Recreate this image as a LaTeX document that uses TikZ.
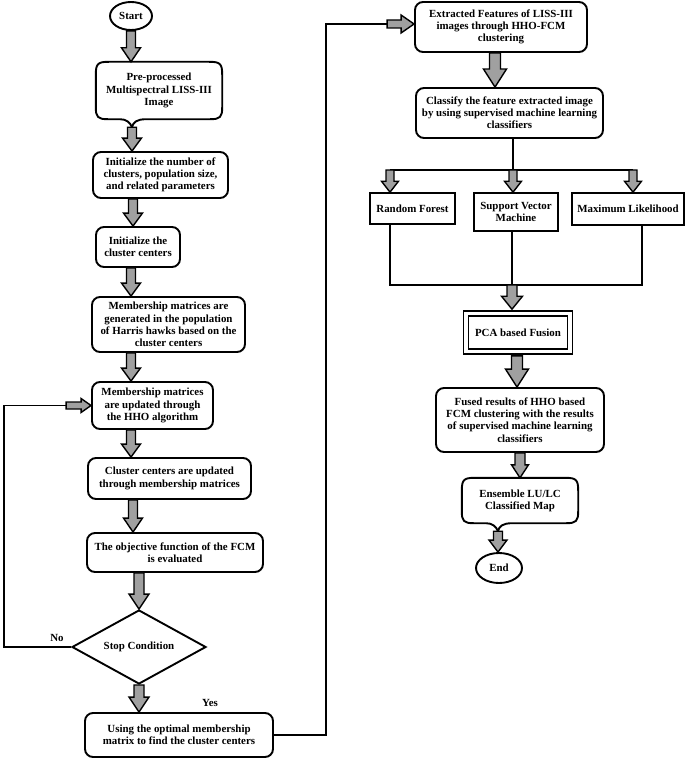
\documentclass[tikz,border=0pt]{standalone}
\usepackage{fontspec}
\setmainfont{Liberation Serif}
\usetikzlibrary{shapes.geometric,calc}
\definecolor{arrgray}{RGB}{160,160,160}
\newcommand\ff{\bfseries\fontsize{10.9}{12.2}\selectfont}
\tikzset{
 box/.style={draw, line width=1.9pt, rounded corners=8pt, align=center, inner sep=2pt, font=\ff},
 rbox/.style={draw, line width=1.6pt, align=center, inner sep=2pt, font=\ff},
 txt/.style={align=center, inner sep=1pt, font=\ff},
 conn/.style={line width=1.9pt},
 fat/.style={draw, line width=1.4pt, fill=arrgray, line join=miter},
}
% vertical fat arrow: from, to, shaft half width, head half width, head length
\newcommand{\fatv}[5]{%
 \path[fat] let \p1=(#1), \p2=(#2) in
 (\x1-#3pt,\y1) -- (\x1-#3pt,\y2+#5pt) -- (\x1-#4pt,\y2+#5pt) -- (\x1,\y2) --
 (\x1+#4pt,\y2+#5pt) -- (\x1+#3pt,\y2+#5pt) -- (\x1+#3pt,\y1) -- cycle;}
% horizontal fat arrow (to the right)
\newcommand{\fath}[5]{%
 \path[fat] let \p1=(#1), \p2=(#2) in
 (\x1,\y1+#3pt) -- (\x2-#5pt,\y1+#3pt) -- (\x2-#5pt,\y1+#4pt) -- (\x2,\y1) --
 (\x2-#5pt,\y1-#4pt) -- (\x2-#5pt,\y1-#3pt) -- (\x1,\y1-#3pt) -- cycle;}
% speech-bubble outline around a node: node, tail x (pt), tail drop (pt)
\newcommand{\bubble}[3]{%
 \draw[line width=1.9pt, line join=round] let \p1=(#1.north west), \p2=(#1.south east) in
 (\x1,\y1-13pt) .. controls (\x1,\y1-2pt) and (\x1+2pt,\y1) .. (\x1+13pt,\y1)
 -- (\x2-13pt,\y1) .. controls (\x2-2pt,\y1) and (\x2,\y1-2pt) .. (\x2,\y1-13pt)
 -- (\x2,\y2+12pt) .. controls (\x2,\y2+2pt) and (\x2-2pt,\y2) .. (\x2-12pt,\y2)
 -- (#2+14pt,\y2) .. controls (#2+5pt,\y2) and (#2+1pt,\y2-3pt) .. (#2,\y2-#3pt) coordinate (#1tail)
 .. controls (#2-2pt,\y2-3pt) and (#2-6pt,\y2) .. (#2-12pt,\y2)
 -- (\x1+12pt,\y2) .. controls (\x1+2pt,\y2) and (\x1,\y2+2pt) .. (\x1,\y2+12pt) -- cycle;}
\begin{document}
\begin{tikzpicture}[x=1pt,y=-1pt]
\useasboundingbox (0,0) rectangle (685,760);
% ---------- left column ----------
\node[ellipse, draw, line width=1.9pt, minimum width=42pt, minimum height=28pt, inner sep=0pt, font=\ff] (start) at (131,16) {Start};
\node[txt, minimum width=126pt, minimum height=57pt] (pre) at (159,90.5) {Pre-processed\\Multispectral LISS-III\\Image};
\bubble{pre}{132pt}{8}
\node[box, minimum width=135pt, minimum height=46pt] (init) at (160.5,175) {Initialize the number of\\clusters, population size,\\and related parameters};
\node[box, minimum width=84pt, minimum height=40pt] (initc) at (138,247) {Initialize the\\cluster centers};
\node[box, minimum width=153pt, minimum height=55pt] (memgen) at (168.5,324.5) {Membership matrices are\\generated in the population\\of Harris hawks based on the\\cluster centers};
\node[box, minimum width=121pt, minimum height=47pt] (memup) at (152.5,405.5) {Membership matrices\\are updated through\\the HHO algorithm};
\node[box, minimum width=163pt, minimum height=41pt] (clus) at (169.5,478.5) {Cluster centers are updated\\through membership matrices};
\node[box, minimum width=176pt, minimum height=39pt] (obj) at (175,552.5) {The objective function of the FCM\\is evaluated};
\node[diamond, draw, line width=1.9pt, aspect=1.8, minimum width=134pt, minimum height=74pt, inner sep=0pt, font=\ff] (stop) at (139,647) {Stop Condition};
\node[box, minimum width=188pt, minimum height=44pt] (using) at (179,735) {Using the optimal membership\\matrix to find the cluster centers};
\node[txt] (no) at (57,638) {No};
\node[txt] (yes) at (210,703) {Yes};
% ---------- right column ----------
\node[box, minimum width=172pt, minimum height=50pt] (ext) at (501,27) {Extracted Features of LISS-III\\images through HHO-FCM\\clustering};
\node[box, minimum width=187pt, minimum height=50pt] (cls) at (509.5,113) {Classify the feature extracted image\\by using supervised machine learning\\classifiers};
\node[rbox, minimum width=85pt, minimum height=31pt] (rf) at (412.5,208.5) {Random Forest};
\node[rbox, minimum width=84pt, minimum height=38pt] (svm) at (516,212) {Support Vector\\Machine};
\node[rbox, minimum width=112pt, minimum height=32pt] (ml) at (628,209) {Maximum Likelihood};
\node[draw, double, double distance=3.5pt, line width=1.6pt, minimum width=104pt, minimum height=38pt, font=\ff] (pca) at (518,332.5) {PCA based Fusion};
\node[box, minimum width=168pt, minimum height=64pt] (fused) at (520,420) {Fused results of HHO based\\FCM clustering with the results\\of supervised machine learning\\classifiers};
\node[txt, minimum width=116pt, minimum height=45pt] (ens) at (520,500.5) {Ensemble LU/LC\\Classified Map};
\bubble{ens}{498pt}{8}
\node[ellipse, draw, line width=1.9pt, minimum width=46pt, minimum height=30pt, inner sep=0pt, font=\ff] (end) at (499,568) {End};
% ---------- helper coordinates ----------
\coordinate (colA) at (131,0);
\coordinate (colB) at (133,0);
\coordinate (colE) at (495,0);
\coordinate (loopL) at (4,0);
\coordinate (loopR) at (326,0);
\coordinate (loopin) at ($(memup.west)+(-25,0)$);
\coordinate (extin) at ($(ext.west)+(-27,-3)$);
\coordinate (extwest) at ($(ext.west)+(0,-3)$);
\coordinate (split) at (513,170);
\coordinate (brL) at (390,170);
\coordinate (brR) at (633,170);
\coordinate (mL) at (390,285);
\coordinate (mM) at (512,285);
\coordinate (mR) at (642,285);
\coordinate (pcatop) at ($(pca.north)+(-5,-3.5)$);
\coordinate (pcabot) at ($(pca.south)+(-1,3.5)$);
% ---------- left arrows ----------
\fatv{start.south}{start.south |- pre.north}{4.5}{9.5}{14}
\fatv{pretail}{pretail |- init.north}{4.5}{9.5}{13}
\fatv{colB |- init.south}{colB |- initc.north}{4.5}{9.5}{13}
\fatv{colA |- initc.south}{colA |- memgen.north}{4.5}{9.5}{13}
\fatv{colA |- memgen.south}{colA |- memup.north}{4.5}{9.5}{13}
\fatv{colA |- memup.south}{colA |- clus.north}{4.5}{9.5}{13}
\fatv{colB |- clus.south}{colB |- obj.north}{4.5}{9.5}{14}
\fatv{stop.north |- obj.south}{stop.north}{5}{10}{15}
\fatv{stop.south}{stop.south |- using.north}{5}{10}{15}
% loops
\draw[conn] (stop.west) -- (stop.west -| loopL) |- (loopin);
\fath{loopin}{memup.west}{3.5}{7}{10}
\draw[conn] (using.east) -- (using.east -| loopR) |- (extin);
\fath{extin}{extwest}{4}{9}{13}
% ---------- right arrows ----------
\fatv{colE |- ext.south}{colE |- cls.north}{5.5}{11.5}{18}
\draw[conn] (split |- cls.south) -- (split);
\draw[conn] (brL) -- (brR);
\fatv{brL}{brL |- rf.north}{4}{8.5}{11}
\fatv{split}{split |- svm.north}{4}{8.5}{11}
\fatv{brR}{brR |- ml.north}{4}{8.5}{11}
\draw[conn] (mL |- rf.south) -- (mL) -- (mR) -- (mR |- ml.south);
\draw[conn] (mM |- svm.south) -- (mM);
\fatv{mM}{mM |- pcatop}{5}{10.5}{13}
\fatv{pcabot}{pcabot |- fused.north}{5.5}{11.5}{18}
\fatv{fused.south}{fused.south |- ens.north}{5}{8.5}{13}
\fatv{enstail}{enstail |- end.north}{4.5}{9}{12}
\end{tikzpicture}
\end{document}
